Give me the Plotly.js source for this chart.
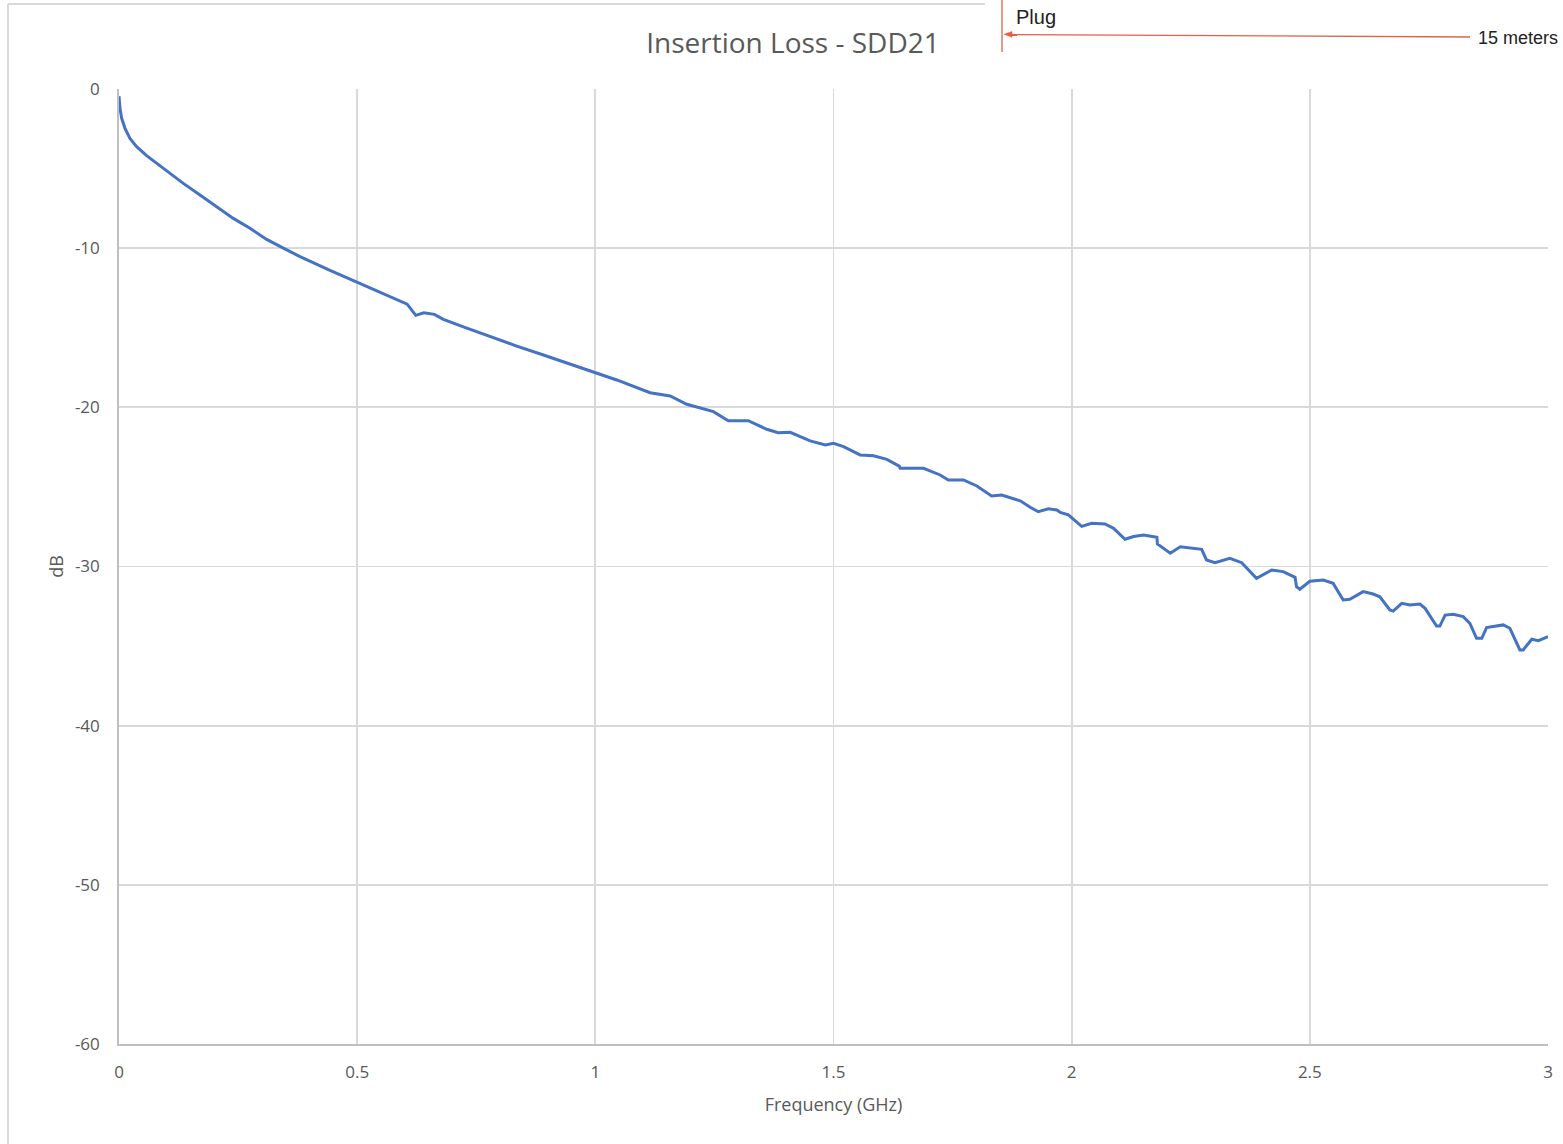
<!DOCTYPE html>
<html>
<head>
<meta charset="utf-8">
<script src="https://cdn.plot.ly/plotly-3.0.1.min.js"></script>
<style>html,body{margin:0;padding:0;background:#fff;}#chart{width:1563px;height:1144px;}</style>
</head>
<body>
<div id="chart"></div>
<script>
// Frequency (GHz)
const freqGHz = [0, 0.002, 0.0056, 0.0126, 0.023, 0.037, 0.058, 0.079, 0.100, 0.135, 0.170, 0.205, 0.240, 0.275, 0.310, 0.345, 0.380, 0.443, 0.499, 0.555, 0.605, 0.623, 0.640, 0.662, 0.681, 0.723, 0.779, 0.835, 0.891, 0.947, 0.999, 1.045, 1.115, 1.157, 1.192, 1.220, 1.248, 1.279, 1.321, 1.360, 1.384, 1.409, 1.451, 1.483, 1.500, 1.521, 1.556, 1.584, 1.612, 1.638, 1.640, 1.689, 1.724, 1.741, 1.773, 1.801, 1.832, 1.853, 1.892, 1.913, 1.930, 1.951, 1.969, 1.976, 1.993, 2.021, 2.042, 2.070, 2.088, 2.112, 2.119, 2.130, 2.151, 2.179, 2.180, 2.207, 2.228, 2.249, 2.273, 2.283, 2.301, 2.332, 2.357, 2.388, 2.420, 2.444, 2.469, 2.472, 2.479, 2.500, 2.528, 2.549, 2.570, 2.584, 2.612, 2.633, 2.647, 2.668, 2.675, 2.693, 2.710, 2.731, 2.742, 2.766, 2.773, 2.784, 2.801, 2.822, 2.836, 2.850, 2.861, 2.871, 2.885, 2.906, 2.920, 2.941, 2.948, 2.966, 2.980, 3.000];
// Insertion loss SDD21 (dB)
const sdd21dB = [-0.45, -1.21, -1.84, -2.47, -3.10, -3.62, -4.19, -4.67, -5.17, -5.93, -6.66, -7.39, -8.13, -8.75, -9.45, -10.00, -10.53, -11.40, -12.15, -12.90, -13.52, -14.22, -14.06, -14.16, -14.47, -14.95, -15.56, -16.15, -16.71, -17.28, -17.82, -18.28, -19.08, -19.29, -19.81, -20.06, -20.27, -20.84, -20.84, -21.38, -21.59, -21.57, -22.11, -22.37, -22.26, -22.47, -22.99, -23.04, -23.27, -23.69, -23.83, -23.83, -24.25, -24.56, -24.56, -24.94, -25.57, -25.51, -25.87, -26.28, -26.56, -26.37, -26.45, -26.60, -26.76, -27.48, -27.29, -27.33, -27.60, -28.29, -28.23, -28.12, -28.02, -28.17, -28.59, -29.17, -28.76, -28.82, -28.92, -29.59, -29.76, -29.49, -29.76, -30.74, -30.22, -30.32, -30.68, -31.27, -31.43, -30.93, -30.85, -31.06, -32.10, -32.06, -31.58, -31.73, -31.90, -32.73, -32.80, -32.31, -32.42, -32.36, -32.63, -33.74, -33.74, -33.05, -33.00, -33.15, -33.57, -34.51, -34.51, -33.84, -33.78, -33.67, -33.88, -35.24, -35.24, -34.57, -34.66, -34.41];
const xTicks = [0, 0.5, 1, 1.5, 2, 2.5, 3];
const xTickText = ['0', '0.5', '1', '1.5', '2', '2.5', '3'];
const yTicks = [0, -10, -20, -30, -40, -50, -60];
const yTickText = ['0', '-10', '-20', '-30', '-40', '-50', '-60'];

const W = 1563, H = 1144;
const L = 119, R = 1548, T = 89, B = 1044;
const px = x => (x - L) / (R - L);
const py = y => (B - y) / (B - T);

const grey = '#595959';
const red = '#E0604A';
const font = 'Open Sans, DejaVu Sans, sans-serif';

const trace = {
  x: freqGHz, y: sdd21dB, type: 'scatter', mode: 'lines',
  line: {color: '#4472C4', width: 3}, showlegend: false, hoverinfo: 'x+y'
};

const layout = {
  width: W, height: H,
  margin: {l: L, r: W - R, t: T, b: H - B},
  paper_bgcolor: '#ffffff', plot_bgcolor: '#ffffff',
  title: {text: 'Insertion Loss - SDD21', x: 793 / W, xanchor: 'center', xref: 'container',
          y: 1 - 43 / H, yanchor: 'middle', yref: 'container',
          font: {family: font, size: 28, color: grey}},
  xaxis: {
    range: [0, 3], tickvals: xTicks, ticktext: xTickText,
    showgrid: true, gridcolor: '#d9d9d9', gridwidth: 1.8,
    zeroline: false, showline: true, linecolor: '#bfbfbf', linewidth: 1.8,
    ticks: '', ticklabelstandoff: 12,
    tickfont: {family: font, size: 17, color: grey},
    title: {text: 'Frequency (GHz)', standoff: 16, font: {family: font, size: 18, color: grey}}
  },
  yaxis: {
    range: [-60, 0], tickvals: yTicks, ticktext: yTickText,
    showgrid: true, gridcolor: '#d9d9d9', gridwidth: 1.8,
    zeroline: false, showline: true, linecolor: '#bfbfbf', linewidth: 1.8,
    ticks: '', ticklabelstandoff: 14,
    tickfont: {family: font, size: 17, color: grey},
    title: {text: 'dB', standoff: 6, font: {family: font, size: 18, color: grey}}
  },
  shapes: [
    // chart frame (left and top edges visible)
    {type: 'line', xref: 'paper', yref: 'paper', x0: px(8), x1: px(8), y0: py(4), y1: py(1150), line: {color: '#d9d9d9', width: 2}},
    {type: 'line', xref: 'paper', yref: 'paper', x0: px(8), x1: px(985), y0: py(4), y1: py(4), line: {color: '#d9d9d9', width: 2}},
    // red marker line and arrow
    {type: 'line', xref: 'paper', yref: 'paper', x0: px(1002), x1: px(1002), y0: py(-2), y1: py(52), line: {color: red, width: 1.3}},
    {type: 'line', xref: 'paper', yref: 'paper', x0: px(1470), x1: px(1010), y0: py(37), y1: py(34.5), line: {color: red, width: 1.3}},
    {type: 'path', xref: 'paper', yref: 'paper',
     path: 'M ' + px(1004) + ',' + py(34.3) + ' L ' + px(1012) + ',' + py(31.5) + ' L ' + px(1012) + ',' + py(37.3) + ' Z',
     fillcolor: red, line: {color: red, width: 0.5}}
  ],
  annotations: [
    {xref: 'paper', yref: 'paper', x: px(1014), y: py(17), xanchor: 'left', yanchor: 'middle', showarrow: false,
     text: 'Plug', font: {family: 'Liberation Sans, Arial, sans-serif', size: 20, color: '#222222'}},
    {xref: 'paper', yref: 'paper', x: px(1476), y: py(38), xanchor: 'left', yanchor: 'middle', showarrow: false,
     text: '15 meters', font: {family: 'Liberation Sans, Arial, sans-serif', size: 18, color: '#222222'}}
  ]
};

Plotly.newPlot('chart', [trace], layout, {displayModeBar: false, staticPlot: true});
</script>
</body>
</html>
